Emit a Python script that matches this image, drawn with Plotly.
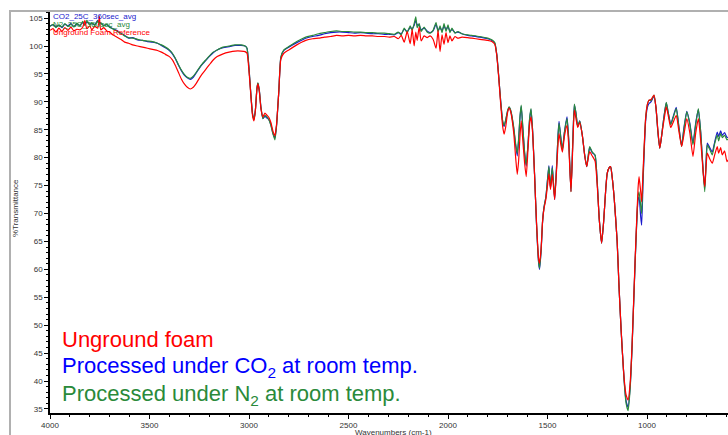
import plotly.graph_objects as go

# FTIR spectra: wavenumber (cm-1) and %Transmittance for the three samples
wavenumbers = [
    4000, 3985, 3970, 3955, 3940, 3925, 3910, 3895, 3880, 3865, 3850, 3835, 3825, 3815, 3800,
    3790, 3775, 3760, 3752, 3745, 3730, 3715, 3700, 3685, 3665, 3645, 3625, 3605, 3585, 3560,
    3535, 3510, 3485, 3460, 3440, 3420, 3400, 3385, 3370, 3355, 3340, 3325, 3310, 3295, 3280,
    3265, 3250, 3235, 3220, 3200, 3180, 3160, 3130, 3100, 3070, 3040, 3020, 3010, 3000, 2990,
    2982, 2975, 2968, 2960, 2955, 2948, 2940, 2930, 2920, 2910, 2900, 2890, 2880, 2870, 2862,
    2850, 2840, 2825, 2800, 2760, 2715, 2680, 2650, 2620, 2590, 2560, 2530, 2500, 2470, 2440,
    2410, 2380, 2350, 2320, 2295, 2270, 2250, 2235, 2220, 2205, 2190, 2180, 2170, 2162, 2155,
    2145, 2135, 2120, 2105, 2090, 2075, 2060, 2050, 2040, 2030, 2020, 2010, 2000, 1990, 1980,
    1965, 1950, 1930, 1900, 1880, 1840, 1800, 1780, 1765, 1755, 1745, 1735, 1725, 1718, 1710,
    1700, 1693, 1685, 1670, 1660, 1652, 1645, 1638, 1632, 1625, 1615, 1607, 1598, 1590, 1583,
    1575, 1565, 1555, 1545, 1540, 1532, 1525, 1518, 1508, 1500, 1493, 1485, 1476, 1470, 1464,
    1455, 1447, 1442, 1433, 1425, 1415, 1402, 1393, 1382, 1372, 1365, 1357, 1348, 1338, 1325,
    1313, 1303, 1295, 1288, 1275, 1261, 1250, 1240, 1228, 1218, 1207, 1200, 1190, 1183, 1175,
    1165, 1150, 1141, 1130, 1115, 1105, 1095, 1085, 1075, 1060, 1045, 1040, 1032, 1027, 1020,
    1007, 998, 990, 980, 965, 955, 945, 936, 928, 920, 910, 903, 893, 881, 870,
    853, 840, 826, 815, 800, 785, 769, 755, 742, 730, 718, 710, 703, 697, 685,
    672, 660, 647, 640, 630, 622, 610, 598, 585,
]

n2_room_temp = [
    103.5, 103.9, 103.3, 103.8, 103.4, 104.0, 103.5, 103.9, 103.4, 104.1, 103.6, 104.4, 103.7, 104.6, 103.8,
    104.2, 103.7, 104.5, 103.9, 104.2, 103.6, 103.9, 103.3, 103.1, 102.7, 102.3, 101.8, 101.5, 101.4, 101.2,
    101.0, 100.9, 100.8, 100.5, 100.2, 99.8, 99.3, 98.7, 97.8, 96.7, 95.7, 94.9, 94.4, 94.2, 94.6,
    95.3, 96.1, 96.8, 97.4, 98.2, 98.9, 99.3, 99.8, 100.0, 100.2, 100.2, 100.0, 99.6, 96.0, 91.0,
    87.8, 86.8, 88.5, 92.5, 93.4, 92.0, 89.0, 87.0, 87.6, 87.3, 86.8, 85.8, 84.3, 83.2, 85.5,
    92.0, 98.0, 99.3, 99.9, 100.8, 101.6, 101.9, 102.2, 102.4, 102.6, 102.7, 102.6, 102.6, 102.5, 102.5,
    102.4, 102.4, 102.3, 102.3, 102.2, 102.1, 102.5, 102.0, 103.2, 102.4, 103.6, 102.8, 104.0, 105.2, 103.3,
    104.0, 102.6, 103.4, 102.5, 102.3, 102.8, 104.2, 102.5, 103.6, 102.4, 104.0, 102.6, 103.8, 102.4, 103.2,
    102.3, 102.6, 102.2, 102.0, 101.9, 101.7, 101.4, 101.1, 100.6, 98.5, 94.5, 90.0, 86.5, 85.8, 86.8,
    88.5, 89.1, 88.5, 85.5, 82.5, 80.8, 83.5, 87.5, 89.4, 86.0, 81.0, 78.7, 82.5, 87.0, 88.8,
    85.0, 77.0, 68.0, 61.5, 60.2, 63.5, 68.5, 71.0, 73.0, 76.0, 78.4, 74.6, 78.2, 75.5, 72.8,
    78.0, 84.0, 86.2, 83.5, 81.4, 84.5, 87.0, 83.0, 73.9, 84.0, 89.6, 88.0, 85.6, 86.6, 84.0,
    80.5, 78.4, 80.5, 82.0, 81.0, 80.5, 75.5, 69.0, 64.7, 68.5, 74.5, 77.2, 78.2, 78.4, 76.5,
    72.8, 65.0, 57.2, 49.1, 40.0, 36.0, 34.7, 38.5, 46.1, 61.0, 73.0, 73.9, 71.5, 70.0, 76.5,
    87.0, 89.5, 90.3, 90.2, 91.2, 89.0, 84.5, 81.7, 83.5, 85.9, 88.5, 89.9, 88.0, 85.9, 87.0,
    88.8, 85.5, 82.0, 85.0, 88.2, 86.0, 82.3, 86.0, 88.8, 84.5, 77.5, 73.9, 79.0, 82.3, 81.5,
    80.5, 82.5, 84.1, 83.0, 84.3, 83.6, 84.0, 83.2, 83.5,
]

co2_room_temp = [
    103.6, 103.8, 103.5, 103.7, 103.3, 103.9, 103.6, 104.0, 103.5, 103.9, 103.7, 104.2, 103.8, 104.3, 103.9,
    104.0, 103.8, 104.6, 104.0, 104.1, 103.7, 103.8, 103.4, 103.1, 102.8, 102.3, 101.9, 101.4, 101.5, 101.1,
    101.0, 100.8, 100.7, 100.5, 100.1, 99.7, 99.2, 98.6, 97.7, 96.6, 95.6, 94.8, 94.3, 94.0, 94.4,
    95.2, 96.0, 96.7, 97.3, 98.1, 98.8, 99.3, 99.7, 99.9, 100.1, 100.1, 100.0, 99.6, 96.0, 91.0,
    87.8, 86.9, 88.5, 92.4, 93.3, 92.0, 89.0, 87.0, 87.4, 87.1, 86.8, 85.9, 84.4, 83.5, 85.6,
    92.0, 97.9, 99.2, 99.8, 100.6, 101.4, 101.7, 101.9, 102.2, 102.4, 102.5, 102.5, 102.4, 102.3, 102.4,
    102.3, 102.2, 102.2, 102.1, 102.1, 102.0, 102.4, 102.2, 103.0, 102.6, 103.3, 103.1, 103.7, 104.6, 103.8,
    103.7, 102.9, 103.2, 102.7, 102.4, 102.7, 103.9, 102.8, 103.3, 102.7, 103.6, 102.9, 103.5, 102.6, 103.0,
    102.4, 102.5, 102.2, 101.9, 101.8, 101.6, 101.3, 101.0, 100.5, 98.5, 94.5, 90.0, 86.4, 85.6, 86.7,
    88.4, 89.0, 88.4, 85.3, 82.2, 80.3, 83.2, 87.3, 89.2, 85.8, 80.8, 78.5, 82.3, 86.8, 88.6,
    84.9, 77.0, 67.9, 61.3, 60.0, 63.4, 68.4, 71.0, 73.0, 76.1, 78.6, 74.5, 78.6, 75.4, 72.5,
    78.0, 84.2, 86.5, 83.6, 81.5, 84.6, 87.3, 83.1, 74.0, 84.0, 89.5, 88.0, 85.6, 86.6, 84.0,
    80.4, 78.4, 80.3, 81.8, 80.9, 80.4, 75.5, 69.0, 64.7, 68.5, 74.5, 77.2, 78.2, 78.4, 76.5,
    72.8, 65.0, 57.2, 49.1, 40.2, 36.4, 35.3, 38.8, 46.1, 61.0, 72.5, 73.0, 69.5, 67.9, 75.5,
    86.5, 89.0, 89.7, 90.0, 91.0, 89.0, 84.5, 81.7, 83.5, 85.9, 88.5, 89.8, 88.0, 86.0, 87.2,
    89.0, 85.6, 82.1, 85.2, 88.3, 86.2, 82.6, 86.3, 88.6, 84.5, 77.8, 74.5, 79.5, 82.6, 81.8,
    81.0, 82.8, 84.6, 83.8, 84.8, 84.0, 84.5, 83.6, 83.9,
]

unground_foam = [
    102.8, 103.1, 102.5, 103.2, 102.6, 103.3, 102.8, 103.4, 102.7, 103.0, 102.9, 103.4, 104.6, 103.1, 103.6,
    102.9, 103.5, 103.2, 105.3, 102.9, 103.3, 102.7, 102.5, 102.0, 101.6, 101.2, 100.7, 100.5, 100.2, 100.0,
    99.8, 99.6, 99.4, 99.2, 98.9, 98.5, 98.1, 97.5, 96.5, 95.3, 94.1, 93.2, 92.6, 92.3, 92.6,
    93.3, 94.2, 95.0, 95.7, 96.6, 97.5, 98.1, 98.6, 98.9, 99.1, 99.1, 99.0, 98.7, 95.5, 90.8,
    87.5, 86.6, 88.4, 92.3, 93.2, 91.8, 88.8, 87.3, 88.0, 87.6, 87.2, 86.3, 84.8, 83.9, 85.8,
    92.0, 97.6, 98.7, 99.3, 100.2, 101.0, 101.3, 101.4, 101.6, 101.7, 101.9, 101.8, 101.9, 101.8, 101.9,
    101.8, 101.8, 101.7, 101.7, 101.6, 101.7, 101.3, 101.9, 100.7, 102.6, 100.4, 103.0, 100.0, 102.5, 101.0,
    103.4, 100.9, 101.8, 101.5, 101.8, 101.2, 99.6, 102.8, 99.0, 102.0, 100.3, 102.4, 100.6, 101.8, 100.9,
    101.7, 101.4, 101.6, 101.5, 101.4, 101.2, 101.0, 100.8, 100.3, 98.3, 94.3, 89.5, 85.5, 84.2, 85.5,
    88.2, 88.9, 88.2, 84.5, 80.0, 77.0, 79.5, 84.0, 86.6, 83.5, 79.0, 76.6, 81.5, 86.0, 87.3,
    84.5, 76.8, 68.3, 62.0, 61.1, 63.8, 68.5, 70.8, 72.6, 75.0, 77.1, 74.3, 77.0, 74.8, 72.5,
    77.5, 82.5, 84.3, 82.3, 81.0, 83.8, 85.8, 82.0, 73.9, 83.0, 88.5, 87.0, 85.4, 86.3, 84.0,
    80.3, 78.4, 80.0, 81.1, 80.3, 79.4, 75.0, 69.0, 64.7, 68.5, 74.5, 77.2, 78.2, 78.4, 76.5,
    72.8, 65.0, 57.2, 49.1, 40.5, 37.5, 36.6, 39.5, 46.5, 61.5, 74.5, 76.6, 74.0, 72.1, 77.5,
    87.0, 89.6, 90.3, 90.4, 91.2, 89.0, 84.8, 81.7, 83.5, 85.5, 87.8, 89.1, 87.5, 85.4, 86.2,
    87.6, 84.8, 82.0, 84.0, 87.0, 84.5, 80.2, 84.5, 87.0, 83.0, 77.5, 74.8, 78.5, 80.8, 79.8,
    79.0, 80.5, 82.0, 80.8, 81.8, 80.5, 81.2, 79.3, 80.0,
]

x_range = [4000, 593]
y_range = [34.27, 106.09]
y_ticks = [35, 40, 45, 50, 55, 60, 65, 70, 75, 80, 85, 90, 95, 100, 105]
x_ticks = [4000, 3500, 3000, 2500, 2000, 1500, 1000]

RED = "#ff0000"
BLUE = "#1a1acc"
GREEN = "#2a8a3a"

W, H = 728, 435
L, R, T, B = 50, 0, 12, 22
pw, ph = W - L - R, H - T - B


def px(xpix):
    return (xpix - L) / pw


def py(ypix):
    return (H - B - ypix) / ph


fig = go.Figure()
for name, vals, color in [
    ("CO2_25C_360sec_avg", co2_room_temp, BLUE),
    ("N2_25C_360sec_avg", n2_room_temp, GREEN),
    ("Unground Foam Reference", unground_foam, RED),
]:
    fig.add_trace(go.Scatter(
        x=wavenumbers, y=vals, mode="lines", name=name,
        line=dict(color=color, width=1.2, shape="spline", smoothing=0.5),
        showlegend=False, hoverinfo="skip",
    ))

tick_font = dict(family="Arial, Liberation Sans, sans-serif", size=8, color="#333333")

fig.update_xaxes(
    range=x_range, tickvals=x_ticks, ticks="outside", ticklen=4, tickwidth=1,
    tickcolor="#000", showline=True, linecolor="#000", linewidth=1.5,
    showgrid=False, zeroline=False, tickfont=tick_font,
    minor=dict(dtick=100, tick0=4000, ticks="outside", ticklen=2, tickcolor="#000", showgrid=False),
)
fig.update_yaxes(
    range=y_range, tickvals=y_ticks, ticks="outside", ticklen=4, tickwidth=1,
    tickcolor="#000", showline=True, linecolor="#000", linewidth=1.5,
    showgrid=False, zeroline=False, tickfont=tick_font,
    minor=dict(dtick=1, tick0=35, ticks="outside", ticklen=2, tickcolor="#000", showgrid=False),
)

annotations = []
# small series labels at top-left
small = dict(family="Arial, Liberation Sans, sans-serif", size=8)
for text, color, ypix in [
    ("CO2_25C_360sec_avg", BLUE, 16),
    ("N2_25C_360sec_avg", GREEN, 24.5),
    ("Unground Foam Reference", RED, 33),
]:
    annotations.append(dict(
        text=text, x=px(51), y=py(ypix), xref="paper", yref="paper",
        xanchor="left", yanchor="middle", showarrow=False,
        font=dict(small, color=color),
    ))

# large descriptive labels
big = dict(family="Arial, Liberation Sans, sans-serif", size=22)
for text, color, ypix in [
    ("Unground foam", RED, 354),
    ("Processed under CO<sub>2</sub> at room temp.", "#0000ff", 383),
    ("Processed under N<sub>2</sub> at room temp.", GREEN, 411),
]:
    annotations.append(dict(
        text=text, x=px(60), y=py(ypix), xref="paper", yref="paper",
        xanchor="left", yanchor="bottom", showarrow=False,
        font=dict(big, color=color),
    ))

# axis titles
annotations.append(dict(
    text="Wavenumbers (cm-1)", x=px(393), y=py(432), xref="paper", yref="paper",
    xanchor="center", yanchor="middle", showarrow=False,
    font=dict(family="Arial, Liberation Sans, sans-serif", size=8, color="#333333"),
))
annotations.append(dict(
    text="%Transmittance", x=px(15), y=py(208), xref="paper", yref="paper",
    xanchor="center", yanchor="middle", showarrow=False, textangle=-90,
    font=dict(family="Arial, Liberation Sans, sans-serif", size=8, color="#333333"),
))

# outer gray frame
shapes = [dict(
    type="rect", xref="paper", yref="paper",
    x0=px(10), x1=px(740), y0=py(460), y1=py(11),
    line=dict(color="#b0b0b0", width=2), fillcolor="rgba(0,0,0,0)", layer="above",
)]

fig.update_layout(
    width=W, height=H,
    margin=dict(l=L, r=R, t=T, b=B, autoexpand=False),
    paper_bgcolor="white", plot_bgcolor="white",
    annotations=annotations, shapes=shapes,
)

fig.write_html("out.html")
